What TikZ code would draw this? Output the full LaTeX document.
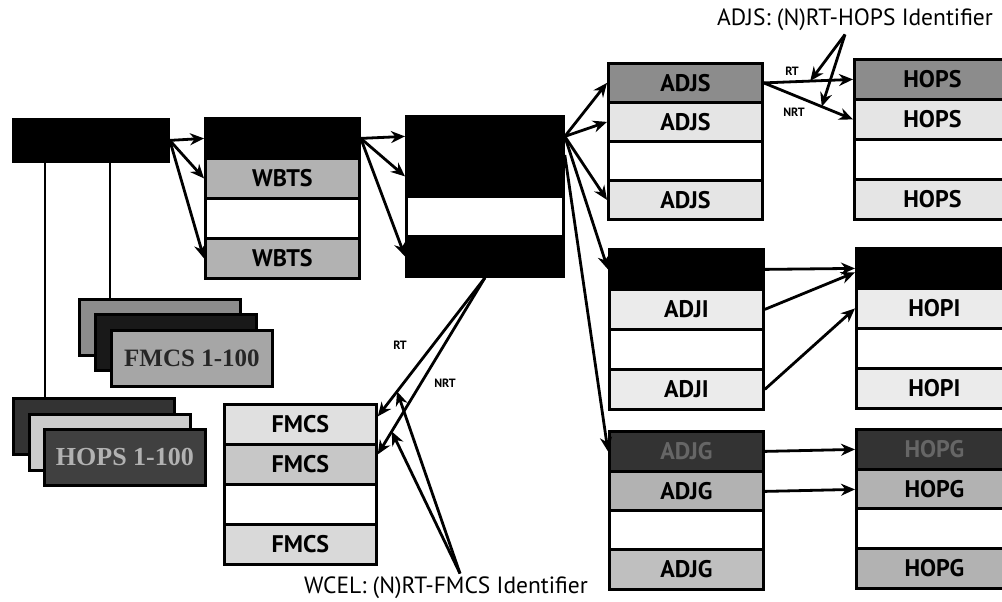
\documentclass[tikz,border=0pt]{standalone}
\usepackage{fontspec}
\newfontfamily\lab{PT Sans}
\newfontfamily\ser{Liberation Serif}
\usetikzlibrary{arrows.meta}
\begin{document}
\begin{tikzpicture}[x=1pt,y=-1pt,
  cell/.style={draw, line width=2.8pt, minimum width=154pt, minimum height=40pt, inner sep=0pt, anchor=north west, font=\lab\bfseries\fontsize{24}{24}\selectfont},
  card/.style={draw, line width=2.8pt, minimum width=161pt, minimum height=56pt, inner sep=0pt, anchor=north west},
  arr/.style={line width=2.8pt, -{Stealth[length=14pt,width=12pt]}},
  small/.style={font=\lab\bfseries\fontsize{12}{12}\selectfont},
  note/.style={font=\lab\fontsize{23.5}{23.5}\selectfont},
  plain/.style={line width=2.6pt}]
\useasboundingbox (0,0) rectangle (1002,602);
\clip (0,0) rectangle (1002,602);

% first box
\node[cell, fill=black, minimum width=155pt, minimum height=42pt] (fb) at (12,118) {};

% stacked cards FMCS
\node[card, fill=black!45] (fcb) at (78,298) {};
\node[card, fill=black!90] (fcm) at (94,313) {};
\node[card, fill=black!35, font=\ser\bfseries\fontsize{25}{25}\selectfont, text=black!85] (fcf) at (110,329) {FMCS 1-100};
% stacked cards HOPS
\node[card, fill=black!80] (hcb) at (12,397) {};
\node[card, fill=black!20] (hcm) at (28,413) {};
\node[card, fill=black!75, font=\ser\bfseries\fontsize{26}{26}\selectfont, text=black!30] (hcf) at (43,428) {HOPS 1-100};

\draw[plain] ([xshift=33pt]fb.south west) -- ([xshift=33pt]hcb.north west);
\draw[plain] ([xshift=98pt]fb.south west) -- ([xshift=32pt]fcb.north west);

% WBTS
\node[cell, fill=black] (wb1) at (204,117) {};
\node[cell, fill=black!30] (wb2) at (204,157) {WBTS};
\node[cell, fill=white] (wb3) at (204,197) {};
\node[cell, fill=black!30] (wb4) at (204,237) {WBTS};

% WCEL
\node[cell, fill=black, minimum width=157pt] (wc1) at (405,115) {};
\node[cell, fill=black, minimum width=157pt] (wc2) at (405,155) {};
\node[cell, fill=white, minimum width=157pt] (wc3) at (405,195) {};
\node[cell, fill=black, minimum width=157pt] (wc4) at (405,235) {};

% ADJS
\node[cell, fill=black!45, minimum height=39pt] (as1) at (607,62) {ADJS};
\node[cell, fill=black!10, minimum height=39pt] (as2) at (607,101) {ADJS};
\node[cell, fill=white, minimum height=39pt] (as3) at (607,140) {};
\node[cell, fill=black!10, minimum height=39pt] (as4) at (607,179) {ADJS};

% HOPS
\node[cell, fill=black!45, minimum width=156pt] (hs1) at (853,58) {HOPS};
\node[cell, fill=black!10, minimum width=156pt] (hs2) at (853,98) {HOPS};
\node[cell, fill=white, minimum width=156pt] (hs3) at (853,138) {};
\node[cell, fill=black!10, minimum width=156pt] (hs4) at (853,178) {HOPS};

% ADJI
\node[cell, fill=black] (ai1) at (608,248) {};
\node[cell, fill=black!8] (ai2) at (608,288) {ADJI};
\node[cell, fill=white] (ai3) at (608,328) {};
\node[cell, fill=black!8] (ai4) at (608,368) {ADJI};

% HOPI
\node[cell, fill=black, minimum width=156pt] (hi1) at (855,247) {};
\node[cell, fill=black!8, minimum width=156pt] (hi2) at (855,287) {HOPI};
\node[cell, fill=white, minimum width=156pt] (hi3) at (855,327) {};
\node[cell, fill=black!8, minimum width=156pt] (hi4) at (855,367) {HOPI};

% ADJG
\node[cell, fill=black!80, text=black!60] (ag1) at (608,430) {ADJG};
\node[cell, fill=black!30] (ag2) at (608,470) {ADJG};
\node[cell, fill=white] (ag3) at (608,509) {};
\node[cell, fill=black!25] (ag4) at (608,548) {ADJG};

% HOPG
\node[cell, fill=black!80, text=black!60, minimum width=156pt] (hg1) at (855,428) {HOPG};
\node[cell, fill=black!30, minimum width=156pt] (hg2) at (855,468) {HOPG};
\node[cell, fill=white, minimum width=156pt] (hg3) at (855,507) {};
\node[cell, fill=black!30, minimum width=156pt] (hg4) at (855,547) {HOPG};

% FMCS
\node[cell, fill=black!12, minimum width=152pt] (fm1) at (223,403) {FMCS};
\node[cell, fill=black!22, minimum width=152pt] (fm2) at (223,443) {FMCS};
\node[cell, fill=white, minimum width=152pt] (fm3) at (223,483) {};
\node[cell, fill=black!15, minimum width=152pt] (fm4) at (223,523) {FMCS};

% labels
\node[note] (topnote) at (855,20) {ADJS: (N)RT-HOPS Identifier};
\node[note] (botnote) at (446,588) {WCEL: (N)RT-FMCS Identifier};
\node[small] (rtA) at (792,71) {RT};
\node[small] (nrtA) at (794,112) {NRT};
\node[small] (rtB) at (400,345) {RT};
\node[small] (nrtB) at (445,383) {NRT};

% connectors
\draw[arr] (fb.east) -- (wb1.west);
\draw[arr] (fb.east) -- (wb2.west);
\draw[arr] (fb.east) -- (wb4.west);

\draw[arr] (wb1.east) -- (wc1.west);
\draw[arr] (wb1.east) -- (wc2.west);
\draw[arr] (wb1.east) -- (wc4.west);

\draw[arr] (wc1.east) -- (as1.west);
\draw[arr] (wc1.east) -- (as2.west);
\draw[arr] (wc1.east) -- (as4.west);
\draw[arr] (wc1.east) -- (ai1.west);
\draw[arr] (wc2.north east) -- (ag1.west);

\draw[arr] (as1.east) -- coordinate[pos=0.52] (rt1) (hs1.west);
\draw[arr] (as1.east) -- coordinate[pos=0.65] (nrt1) (hs2.west);
\draw[arr] ([xshift=-10pt]topnote.south) -- (rt1);
\draw[arr] ([xshift=-10pt]topnote.south) -- (nrt1);

\draw[arr] (ai1.east) -- (hi1.west);
\draw[arr] (ai2.east) -- ([yshift=-4pt]hi1.west);
\draw[arr] (ai4.east) -- (hi2.west);

\draw[arr] (ag1.east) -- (hg1.west);
\draw[arr] (ag2.east) -- (hg2.west);

\draw[arr] (wc4.south) -- coordinate[pos=0.82] (rt2) ([yshift=8pt]fm1.east);
\draw[arr] (wc4.south) -- coordinate[pos=0.87] (nrt2) ([yshift=10pt]fm2.east);
\draw[arr] ([xshift=14pt]botnote.north) -- (rt2);
\draw[arr] ([xshift=14pt]botnote.north) -- (nrt2);
\end{tikzpicture}
\end{document}
